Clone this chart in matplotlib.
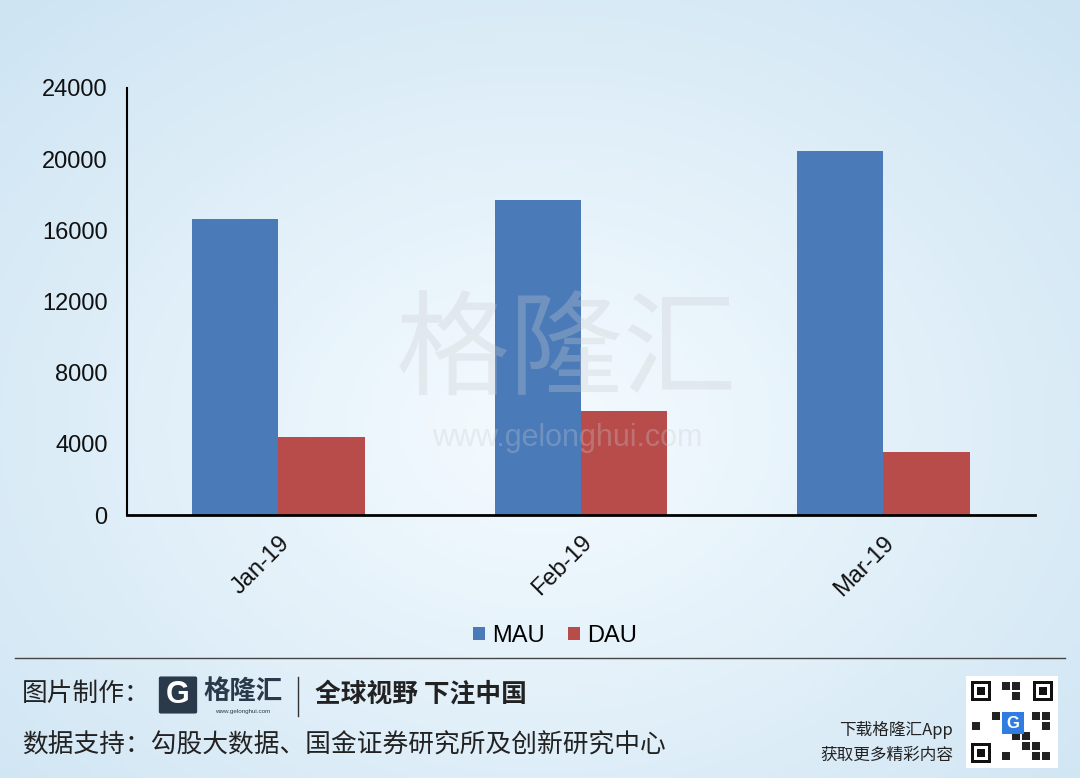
import numpy as np
import matplotlib.pyplot as plt
from matplotlib.patches import Rectangle, FancyBboxPatch
from matplotlib.lines import Line2D

plt.rcParams['font.family'] = ['Liberation Sans', 'Noto Sans CJK SC', 'DejaVu Sans']

months = ['Jan-19', 'Feb-19', 'Mar-19']
mau = [16650, 17700, 20450]
dau = [4390, 5830, 3520]
series_names = ['MAU', 'DAU']
yticks = [0, 4000, 8000, 12000, 16000, 20000, 24000]

blue = '#4a7ab8'
red = '#b84c4b'
cjk = ['Noto Sans CJK SC', 'DejaVu Sans']

fig = plt.figure(figsize=(10.8, 7.78), dpi=100)

# background: pale blue with a lighter centre
bg = fig.add_axes([0, 0, 1, 1], zorder=-10)
yy, xx = np.mgrid[0:1:200j, 0:1:280j]
d = np.sqrt(((xx - 0.5) / 0.75) ** 2 + ((yy - 0.45) / 0.8) ** 2)
d = np.clip(d, 0, 1)
c_in = np.array([0.96, 0.985, 1.0])
c_out = np.array([0.80, 0.89, 0.95])
img = c_in[None, None, :] * (1 - d[..., None]) + c_out[None, None, :] * d[..., None]
bg.imshow(img, extent=[0, 1, 0, 1], aspect='auto', origin='lower')
bg.set_xlim(0, 1)
bg.set_ylim(0, 1)
bg.axis('off')

# watermark
fig.text(0.525, 0.545, '格隆汇', fontsize=82, color='#c9ccd0', alpha=0.3,
         ha='center', va='center', family=cjk)
fig.text(0.525, 0.437, 'www.gelonghui.com', fontsize=22, color='#c9ccd0', alpha=0.3,
         ha='center', va='center')

ax = fig.add_axes([0.1176, 0.338, 0.8404, 0.549])
ax.patch.set_alpha(0)
x = np.arange(len(months))
w = 0.285
ax.bar(x - w / 2, mau, w, color=blue, label=series_names[0])
ax.bar(x + w / 2, dau, w, color=red, label=series_names[1])
ax.set_xlim(-0.5, 2.5)
ax.set_ylim(0, 24000)
ax.set_yticks(yticks)
ax.set_yticklabels([str(v) for v in yticks], fontsize=17, color='#111111')
ax.set_xticks(x)
ax.set_xticklabels(months, rotation=45, ha='right', rotation_mode='anchor',
                   fontsize=17, color='#111111')
ax.tick_params(axis='both', length=0)
ax.tick_params(axis='y', pad=14)
ax.tick_params(axis='x', pad=12)
for s in ['top', 'right']:
    ax.spines[s].set_visible(False)
ax.spines['left'].set_linewidth(1.5)
ax.spines['bottom'].set_linewidth(2)

ax.legend(loc='center', bbox_to_anchor=(0.514, 0.1825), bbox_transform=fig.transFigure,
          ncol=2, frameon=False, fontsize=17, handlelength=0.5, handleheight=0.5,
          handletextpad=0.3, columnspacing=1.0)

# footer
fig.add_artist(Line2D([15 / 1080, 1065 / 1080], [1 - 658 / 778] * 2, color='#444444', lw=1))
fig.text(22 / 1080, 1 - 694 / 778, '图片制作：', fontsize=18.5, family=cjk,
         va='center', ha='left', color='#222222')
fig.add_artist(FancyBboxPatch((161 / 1080, 1 - 712 / 778), 34 / 1080, 34 / 778,
                              boxstyle='round,pad=0.002', fc='#2b3a4a', ec='none'))
fig.text(178 / 1080, 1 - 695 / 778, 'G', fontsize=22, fontweight='bold', color='white',
         ha='center', va='center')
fig.text(203 / 1080, 1 - 691 / 778, '格隆汇', fontsize=19, fontweight='bold', family=cjk,
         va='center', ha='left', color='#2b3a4a')
fig.text(243 / 1080, 1 - 711 / 778, 'www.gelonghui.com', fontsize=4.5,
         va='center', ha='center', color='#2b3a4a')
fig.add_artist(Line2D([298 / 1080] * 2, [1 - 677 / 778, 1 - 716 / 778], color='#333333', lw=1))
fig.text(315 / 1080, 1 - 694 / 778, '全球视野 下注中国', fontsize=18.5, fontweight='bold',
         family=cjk, va='center', ha='left', color='#222222')
fig.text(22 / 1080, 1 - 746 / 778, '数据支持：勾股大数据、国金证券研究所及创新研究中心',
         fontsize=18.5, family=cjk, va='center', ha='left', color='#222222')
fig.text(953 / 1080, 1 - 730 / 778, '下载格隆汇App', fontsize=12, family=cjk,
         va='center', ha='right', color='#222222')
fig.text(953 / 1080, 1 - 755 / 778, '获取更多精彩内容', fontsize=12, family=cjk,
         va='center', ha='right', color='#222222')

# QR code placeholder
qx, qy, qs = 966, 676, 92
def px(xp, yp, wp, hp, **kw):
    fig.add_artist(Rectangle((xp / 1080, 1 - (yp + hp) / 778), wp / 1080, hp / 778, **kw))
px(qx, qy, qs, qs, fc='white', ec='none')
for fx, fy in [(qx + 5, qy + 5), (qx + qs - 25, qy + 5), (qx + 5, qy + qs - 25)]:
    px(fx, fy, 20, 20, fc='#111111', ec='none')
    px(fx + 3, fy + 3, 14, 14, fc='white', ec='none')
    px(fx + 6, fy + 6, 8, 8, fc='#111111', ec='none')
for i in range(8):
    for j in range(8):
        if (i * 3 + j * 5) % 4 in (0, 1) and not (i < 3 and j < 3) and not (i > 4 and j < 3) \
                and not (i < 3 and j > 4):
            px(qx + 6 + i * 10, qy + 6 + j * 10, 8, 8, fc='#222222', ec='none')
px(qx + 36, qy + 36, 22, 22, fc='#2f7de0', ec='none')
fig.text((qx + 47) / 1080, 1 - (qy + 47) / 778, 'G', fontsize=12, fontweight='bold',
         color='white', ha='center', va='center')

fig.savefig('out.png', dpi=100)
